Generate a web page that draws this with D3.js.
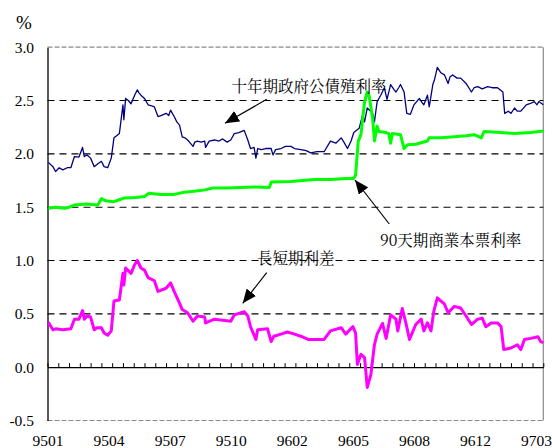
<!DOCTYPE html>
<html>
<head>
<meta charset="utf-8">
<script src="https://cdn.jsdelivr.net/npm/d3@7"></script>
<style>
  html, body { margin: 0; padding: 0; background: #fff; }
  svg { display: block; }
</style>
</head>
<body>
<script>
// ---- DATA (x = trading-day index from start of 9501, value in %) ----
const xLabels = ["9501","9504","9507","9510","9602","9605","9608","9612","9703"];
const labelStepDays = 68;
const minorTickStepDays = 12;
const totalDays = 552;
const yTicks = [-0.5, 0.0, 0.5, 1.0, 1.5, 2.0, 2.5, 3.0];
const gridValues = [0.5, 1.0, 1.5, 2.0, 2.5];

// 十年期政府公債殖利率
const bondDays = [1,6,9,13,17,22,26,30,35,39,41,44,48,52,55,60,63,67,71,74,77,80,84,85,87,90,93,97,100,102,104,108,112,116,119,123,127,132,135,137,141,144,147,150,153,156,159,162,164,167,171,175,176,180,186,191,195,200,204,208,213,219,223,226,230,232,234,238,243,249,251,254,260,265,271,275,282,288,293,300,308,315,321,327,330,334,338,341,347,351,353,356,362,364,367,371,375,378,382,386,388,391,393,397,400,404,408,414,417,419,423,425,429,431,434,438,442,446,448,451,456,460,466,472,475,479,484,490,495,501,507,509,513,516,520,523,527,533,537,542,545,547,552];
const bondVals = [1.92,1.88,1.835,1.87,1.85,1.87,1.87,1.975,1.97,2.06,1.975,1.99,1.96,1.88,1.90,1.93,1.88,1.87,1.96,2.15,2.17,2.19,2.46,2.32,2.52,2.50,2.47,2.55,2.60,2.57,2.55,2.52,2.46,2.45,2.44,2.35,2.36,2.38,2.36,2.41,2.35,2.30,2.27,2.16,2.15,2.13,2.10,2.07,2.11,2.12,2.11,2.12,2.06,2.12,2.13,2.12,2.14,2.11,2.13,2.19,2.20,2.22,2.13,2.05,2.06,1.96,2.05,2.04,2.05,2.05,1.99,2.04,2.05,2.07,2.07,2.05,2.04,2.03,2.01,2.02,2.02,2.12,2.10,2.15,2.11,2.05,2.12,2.20,2.24,2.37,2.30,2.43,2.38,2.30,2.49,2.55,2.62,2.51,2.65,2.60,2.58,2.62,2.65,2.58,2.38,2.37,2.46,2.52,2.48,2.46,2.55,2.44,2.65,2.70,2.81,2.76,2.74,2.66,2.72,2.74,2.71,2.71,2.66,2.58,2.62,2.63,2.61,2.63,2.62,2.62,2.58,2.38,2.40,2.38,2.43,2.40,2.40,2.46,2.47,2.49,2.46,2.49,2.46];

// 90天期商業本票利率
const cpDays = [1,9,19,24,30,43,56,60,65,73,80,85,98,108,113,126,141,152,163,174,184,199,215,232,247,249,271,297,315,332,341,343,346,349,353,356,358,362,364,367,369,377,380,382,384,393,397,401,410,423,425,438,453,466,475,483,486,505,520,538,552];
const cpVals = [1.49,1.50,1.49,1.50,1.52,1.53,1.52,1.58,1.56,1.55,1.57,1.585,1.59,1.60,1.63,1.62,1.62,1.64,1.65,1.66,1.68,1.68,1.685,1.69,1.685,1.735,1.74,1.76,1.76,1.77,1.77,1.80,2.12,2.18,2.49,2.58,2.55,2.33,2.12,2.26,2.21,2.20,2.19,2.10,2.19,2.18,2.05,2.085,2.09,2.12,2.15,2.15,2.16,2.17,2.18,2.15,2.21,2.20,2.19,2.20,2.215];

// 長短期利差
const spreadDays = [1,6,9,17,26,30,35,39,41,44,48,52,55,60,63,67,71,74,80,84,85,87,93,97,100,104,108,112,119,123,132,137,141,147,150,156,162,167,175,176,186,195,204,208,219,223,226,232,234,245,249,252,260,267,275,282,290,293,308,315,327,332,340,343,345,349,353,356,360,364,367,373,377,382,388,390,395,399,403,410,416,419,423,427,430,434,442,446,453,460,466,472,479,484,488,494,501,505,508,516,523,527,531,538,546,549,552];
const spreadVals = [0.42,0.35,0.36,0.35,0.36,0.45,0.45,0.53,0.45,0.48,0.47,0.35,0.37,0.37,0.32,0.30,0.34,0.62,0.63,0.88,0.77,0.93,0.88,0.96,1.00,0.93,0.91,0.84,0.81,0.71,0.74,0.79,0.71,0.60,0.54,0.51,0.43,0.48,0.47,0.415,0.45,0.44,0.43,0.49,0.52,0.48,0.38,0.26,0.35,0.36,0.24,0.29,0.31,0.33,0.31,0.29,0.26,0.26,0.26,0.34,0.37,0.31,0.38,0.32,0.025,0.12,0.09,-0.19,-0.07,0.21,0.31,0.41,0.27,0.49,0.45,0.34,0.55,0.415,0.26,0.40,0.45,0.34,0.415,0.34,0.52,0.65,0.59,0.51,0.57,0.555,0.48,0.40,0.45,0.46,0.38,0.415,0.415,0.38,0.165,0.18,0.21,0.165,0.26,0.27,0.285,0.24,0.23];

const labels = [
  { text: "十年期政府公債殖利率", x: 231.5, y: 86.5 },
  { text: "90天期商業本票利率", x: 380, y: 241 },
  { text: "長短期利差", x: 257, y: 258.5 }
];

// ---- CHART ----
const SERIF = "Liberation Serif";
const CJK = "Noto Serif CJK TC";
const W = 552, H = 448;
const svg = d3.select("body").append("svg").attr("width", W).attr("height", H);
svg.append("rect").attr("width", W).attr("height", H).attr("fill", "#fff");

const x = d3.scaleLinear().domain([0, totalDays]).range([47.5, 543.3]);
const y = d3.scaleLinear().domain([-0.5, 3.0]).range([420.5, 47.2]);

// frame: top/bottom dashed gray, right solid gray
svg.append("line").attr("x1", x(0)).attr("x2", x(totalDays)).attr("y1", y(3)).attr("y2", y(3))
  .attr("stroke", "#8a8a8a").attr("stroke-width", 1.2).attr("stroke-dasharray", "5,2");
svg.append("line").attr("x1", x(0)).attr("x2", x(totalDays)).attr("y1", y(-0.5)).attr("y2", y(-0.5))
  .attr("stroke", "#8a8a8a").attr("stroke-width", 1.2).attr("stroke-dasharray", "5,2");
svg.append("line").attr("x1", x(totalDays)).attr("x2", x(totalDays)).attr("y1", y(3)).attr("y2", y(-0.5))
  .attr("stroke", "#8a8a8a").attr("stroke-width", 1.2);

// dashed gridlines
svg.append("g").selectAll("line").data(gridValues).join("line")
  .attr("x1", x(0)).attr("x2", x(totalDays))
  .attr("y1", d => y(d)).attr("y2", d => y(d))
  .attr("stroke", "#000").attr("stroke-width", 1.1).attr("stroke-dasharray", "7,5");

// left axis with labels
const yAxis = svg.append("g").attr("transform", `translate(${x(0)},0)`)
  .call(d3.axisLeft(y).tickValues(yTicks).tickFormat(d => d.toFixed(1)).tickSize(0).tickPadding(13.5))
  .attr("font-family", SERIF).attr("font-size", 15.5);
yAxis.select(".domain").attr("stroke", "#000").attr("stroke-width", 1.3);
yAxis.selectAll("text").attr("fill", "#000").attr("dy", "0.33em");

// zero line with minor ticks upward
const zeroAxis = svg.append("g").attr("transform", `translate(0,${y(0)})`)
  .call(d3.axisTop(x).tickValues(d3.range(0, totalDays + 1, minorTickStepDays)).tickSize(4).tickSizeOuter(0).tickFormat(""));
zeroAxis.select(".domain").attr("stroke", "#000").attr("stroke-width", 1.3);
zeroAxis.selectAll(".tick line").attr("stroke", "#000").attr("stroke-width", 1);

// bottom category labels
const xAxis = svg.append("g").attr("transform", `translate(0,${y(-0.5)})`)
  .call(d3.axisBottom(x).tickValues(xLabels.map((_, i) => i * labelStepDays))
    .tickFormat((d, i) => xLabels[i]).tickSize(0).tickPadding(14))
  .attr("font-family", SERIF).attr("font-size", 15.5);
xAxis.select(".domain").remove();
xAxis.selectAll("text").attr("fill", "#000");

// % unit
svg.append("text").attr("x", 24).attr("y", 29).attr("text-anchor", "middle")
  .attr("font-family", SERIF).attr("font-size", 19).text("%");

// series
const line = d3.line().x(d => x(d[0])).y(d => y(d[1]));
const bond = bondDays.map((d, i) => [d, bondVals[i]]);
const cp = cpDays.map((d, i) => [d, cpVals[i]]);
const spread = spreadDays.map((d, i) => [d, spreadVals[i]]);

svg.append("path").datum(bond).attr("d", line).attr("fill", "none")
  .attr("stroke", "#000080").attr("stroke-width", 1.3).attr("stroke-linejoin", "round");
svg.append("path").datum(cp).attr("d", line).attr("fill", "none")
  .attr("stroke", "#00ff00").attr("stroke-width", 3).attr("stroke-linejoin", "round");
svg.append("path").datum(spread).attr("d", line).attr("fill", "none")
  .attr("stroke", "#ff00ff").attr("stroke-width", 3).attr("stroke-linejoin", "round");

// annotation arrows
svg.append("defs").append("marker").attr("id", "ah")
  .attr("viewBox", "0 0 14 12").attr("refX", 14).attr("refY", 6)
  .attr("markerWidth", 14).attr("markerHeight", 12).attr("markerUnits", "userSpaceOnUse")
  .attr("orient", "auto")
  .append("path").attr("d", "M0,0 L14,6 L0,12 Z").attr("fill", "#000");

const arrows = [
  { x1: 266.7, y1: 99.3, x2: 225, y2: 123.3 },
  { x1: 389.3, y1: 224, x2: 355, y2: 180 },
  { x1: 266.7, y1: 272.7, x2: 242.7, y2: 303.3 }
];
svg.append("g").selectAll("line").data(arrows).join("line")
  .attr("x1", d => d.x1).attr("y1", d => d.y1).attr("x2", d => d.x2).attr("y2", d => d.y2)
  .attr("stroke", "#000").attr("stroke-width", 1.2).attr("marker-end", "url(#ah)");

svg.append("g").selectAll("text").data(labels).join("text")
  .attr("x", d => d.x).attr("y", d => d.y).attr("dy", "0.35em")
  .style("font-family", CJK).style("font-size", "15.5px").attr("fill", "#000").text(d => d.text);
</script>
</body>
</html>
